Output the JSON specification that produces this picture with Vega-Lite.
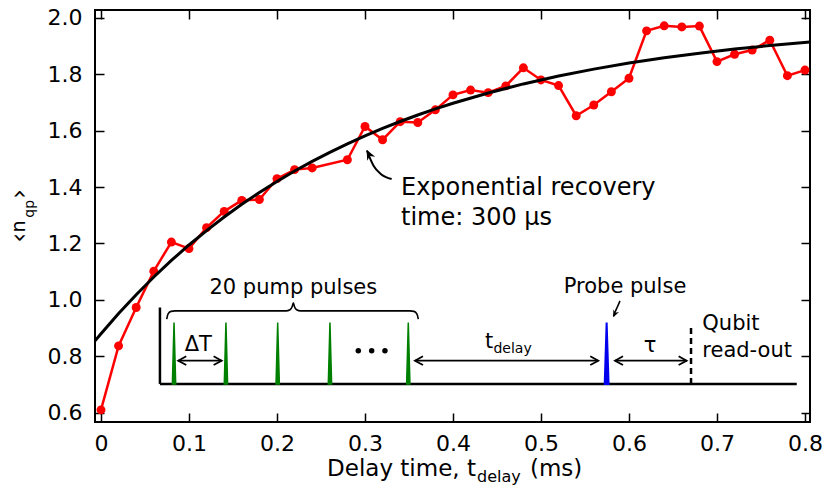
{
  "$schema": "https://vega.github.io/schema/vega-lite/v6.json",
  "width": 715,
  "height": 412,
  "autosize": "none",
  "padding": {"left": 95, "top": 10, "right": 17, "bottom": 80},
  "background": "white",
  "config": {
    "view": {"stroke": "black", "strokeWidth": 2},
    "axis": {"domain": false, "grid": false, "tickColor": "black", "tickWidth": 1.5, "tickSize": -9, "labelFont": "DejaVu Sans", "labelFontSize": 22, "labelColor": "black", "labelFlush": false, "labelOverlap": false, "labelBound": false},
    "text": {"font": "DejaVu Sans", "color": "black"}
  },
  "datasets": {
    "obs": [
      {"t": 0.00, "n": 0.610}, {"t": 0.02, "n": 0.837}, {"t": 0.04, "n": 0.973}, {"t": 0.06, "n": 1.102},
      {"t": 0.08, "n": 1.205}, {"t": 0.10, "n": 1.182}, {"t": 0.12, "n": 1.256}, {"t": 0.14, "n": 1.314},
      {"t": 0.16, "n": 1.353}, {"t": 0.18, "n": 1.356}, {"t": 0.20, "n": 1.430}, {"t": 0.22, "n": 1.462},
      {"t": 0.24, "n": 1.468}, {"t": 0.28, "n": 1.497}, {"t": 0.30, "n": 1.615}, {"t": 0.32, "n": 1.568},
      {"t": 0.34, "n": 1.632}, {"t": 0.36, "n": 1.629}, {"t": 0.38, "n": 1.674}, {"t": 0.40, "n": 1.727},
      {"t": 0.42, "n": 1.744}, {"t": 0.44, "n": 1.735}, {"t": 0.46, "n": 1.759}, {"t": 0.48, "n": 1.823},
      {"t": 0.50, "n": 1.780}, {"t": 0.52, "n": 1.760}, {"t": 0.54, "n": 1.653}, {"t": 0.56, "n": 1.691},
      {"t": 0.58, "n": 1.738}, {"t": 0.60, "n": 1.786}, {"t": 0.62, "n": 1.954}, {"t": 0.64, "n": 1.972},
      {"t": 0.66, "n": 1.968}, {"t": 0.68, "n": 1.971}, {"t": 0.70, "n": 1.845}, {"t": 0.72, "n": 1.871},
      {"t": 0.74, "n": 1.886}, {"t": 0.76, "n": 1.921}, {"t": 0.78, "n": 1.795}, {"t": 0.80, "n": 1.815}
    ],
    "fit": [
      {"t": -0.0068, "n": 0.8546}, {"t": 0.0, "n": 0.88}, {"t": 0.02, "n": 0.9516}, {"t": 0.04, "n": 1.0185},
      {"t": 0.06, "n": 1.0812}, {"t": 0.08, "n": 1.1398}, {"t": 0.10, "n": 1.1947}, {"t": 0.12, "n": 1.2459},
      {"t": 0.14, "n": 1.2939}, {"t": 0.16, "n": 1.3389}, {"t": 0.18, "n": 1.3808}, {"t": 0.20, "n": 1.4201},
      {"t": 0.22, "n": 1.4569}, {"t": 0.24, "n": 1.4913}, {"t": 0.26, "n": 1.5234}, {"t": 0.28, "n": 1.5535},
      {"t": 0.30, "n": 1.5816}, {"t": 0.32, "n": 1.608}, {"t": 0.34, "n": 1.6326}, {"t": 0.36, "n": 1.6557},
      {"t": 0.38, "n": 1.6772}, {"t": 0.40, "n": 1.6974}, {"t": 0.44, "n": 1.7339}, {"t": 0.48, "n": 1.7659},
      {"t": 0.52, "n": 1.7939}, {"t": 0.56, "n": 1.8184}, {"t": 0.60, "n": 1.8398}, {"t": 0.64, "n": 1.8586},
      {"t": 0.68, "n": 1.875}, {"t": 0.72, "n": 1.8893}, {"t": 0.76, "n": 1.9019}, {"t": 0.8057, "n": 1.9143}
    ],
    "frame": [
      {"x": 0.067, "x2": 0.7906, "y": 0.702, "y2": 0.702},
      {"x": 0.067, "x2": 0.067, "y": 0.702, "y2": 0.973}
    ],
    "shafts": [
      {"x": 0.0878, "x2": 0.1371, "y": 0.7845, "y2": 0.7845},
      {"x": 0.3568, "x2": 0.5651, "y": 0.7845, "y2": 0.7845},
      {"x": 0.5841, "x2": 0.6655, "y": 0.7845, "y2": 0.7845}
    ],
    "readout": [{"x": 0.6705, "x2": 0.6705, "y": 0.702, "y2": 0.908}],
    "pumps": [
      {"p": "a", "x": 0.0811, "y": 0.702}, {"p": "a", "x": 0.0830, "y": 0.92}, {"p": "a", "x": 0.0849, "y": 0.702},
      {"p": "b", "x": 0.1401, "y": 0.702}, {"p": "b", "x": 0.1420, "y": 0.92}, {"p": "b", "x": 0.1439, "y": 0.702},
      {"p": "c", "x": 0.1989, "y": 0.702}, {"p": "c", "x": 0.2008, "y": 0.92}, {"p": "c", "x": 0.2027, "y": 0.702},
      {"p": "d", "x": 0.2583, "y": 0.702}, {"p": "d", "x": 0.2602, "y": 0.92}, {"p": "d", "x": 0.2621, "y": 0.702},
      {"p": "e", "x": 0.3473, "y": 0.702}, {"p": "e", "x": 0.3492, "y": 0.92}, {"p": "e", "x": 0.3511, "y": 0.702}
    ],
    "probe": [
      {"p": "a", "x": 0.5724, "y": 0.702}, {"p": "a", "x": 0.5746, "y": 0.92}, {"p": "a", "x": 0.5768, "y": 0.702}
    ],
    "headsR": [{"x": 0.1371, "y": 0.7845}, {"x": 0.5651, "y": 0.7845}, {"x": 0.6655, "y": 0.7845}],
    "headsL": [{"x": 0.0878, "y": 0.7845}, {"x": 0.3568, "y": 0.7845}, {"x": 0.5841, "y": 0.7845}],
    "dots": [{"x": 0.2924, "y": 0.8196}, {"x": 0.3076, "y": 0.8196}, {"x": 0.3227, "y": 0.8196}],
    "brace": [
      {"x": 0.0747, "y": 0.9317}, {"x": 0.0761, "y": 0.9494}, {"x": 0.0795, "y": 0.9593}, {"x": 0.0841, "y": 0.9610},
      {"x": 0.2102, "y": 0.9610}, {"x": 0.2148, "y": 0.9652}, {"x": 0.2174, "y": 0.9776}, {"x": 0.2186, "y": 0.9900},
      {"x": 0.2197, "y": 0.9776}, {"x": 0.2223, "y": 0.9652}, {"x": 0.2268, "y": 0.9610}, {"x": 0.3511, "y": 0.9610},
      {"x": 0.3557, "y": 0.9593}, {"x": 0.3591, "y": 0.9494}, {"x": 0.3606, "y": 0.9317}
    ],
    "curveArrow": [
      {"x": 0.3303, "y": 1.4289}, {"x": 0.3182, "y": 1.4459}, {"x": 0.3097, "y": 1.4759}, {"x": 0.3040, "y": 1.5148}, {"x": 0.3022, "y": 1.5290}
    ],
    "curveHead": [{"x": 0.3019, "y": 1.5324}],
    "probeArrow": [
      {"x": 0.5898, "y": 0.9963}, {"x": 0.5869, "y": 0.9758}, {"x": 0.5841, "y": 0.9564}, {"x": 0.5824, "y": 0.9420}
    ],
    "probeHead": [{"x": 0.5822, "y": 0.9387}],
    "txt24": [
      {"x": 0.3409, "y": 1.3734, "s": "Exponential recovery"},
      {"x": 0.3409, "y": 1.2639, "s": "time: 300 μs"}
    ],
    "txt21c": [
      {"x": 0.2186, "y": 1.0225, "s": "20 pump pulses"},
      {"x": 0.1106, "y": 0.8186, "s": "ΔT"},
      {"x": 0.5955, "y": 1.0235, "s": "Probe pulse"},
      {"x": 0.6239, "y": 0.8168, "s": "τ"}
    ],
    "txt21l": [
      {"x": 0.6833, "y": 0.894, "s": "Qubit"},
      {"x": 0.6833, "y": 0.796, "s": "read-out"},
      {"x": 0.4364, "y": 0.8292, "s": "t"}
    ],
    "txt14l": [{"x": 0.4460, "y": 0.8115, "s": "delay"}],
    "xtitleR": [{"x": 0.4261, "y": 0.3768, "s": "Delay time, t"}],
    "xtitleL": [{"x": 0.4875, "y": 0.3768, "s": "(ms)"}],
    "xtitleSub": [{"x": 0.4273, "y": 0.3526, "s": "delay"}],
    "ytitleBr": [
      {"x": -0.0841, "y": 1.2036, "s": "‹"},
      {"x": -0.0841, "y": 1.3586, "s": "›"}
    ],
    "ytitle": [
      {"x": -0.0864, "y": 1.2389, "s": "n"}
    ],
    "ytitleSub": [{"x": -0.0761, "y": 1.2916, "s": "qp"}]
  },
  "resolve": {"axis": {"x": "independent", "y": "independent"}},
  "layer": [
    {
      "data": {"name": "obs"},
      "mark": {"type": "line", "color": "#ff0000", "strokeWidth": 2.5, "point": {"filled": true, "size": 80, "color": "#ff0000"}},
      "encoding": {
        "x": {"field": "t", "type": "quantitative", "scale": {"domain": [-0.0068, 0.8057], "nice": false, "zero": false},
              "axis": {"orient": "bottom", "title": null, "values": [0, 0.1, 0.2, 0.3, 0.4, 0.5, 0.6, 0.7, 0.8], "labelPadding": 20, "labelBaseline": "top",
                       "labelExpr": "datum.value == 0 ? '0' : format(datum.value, '.1f')"}},
        "y": {"field": "n", "type": "quantitative", "scale": {"domain": [0.567, 2.028], "nice": false, "zero": false},
              "axis": {"orient": "left", "title": null, "values": [0.6, 0.8, 1.0, 1.2, 1.4, 1.6, 1.8, 2.0], "format": ".1f", "labelPadding": 22}}
      }
    },
    {
      "data": {"name": "fit"},
      "mark": {"type": "line", "color": "black", "strokeWidth": 3},
      "encoding": {
        "x": {"field": "t", "type": "quantitative", "scale": {"domain": [-0.0068, 0.8057], "nice": false, "zero": false},
              "axis": {"orient": "top", "title": null, "labels": false, "values": [0, 0.1, 0.2, 0.3, 0.4, 0.5, 0.6, 0.7, 0.8]}},
        "y": {"field": "n", "type": "quantitative", "scale": {"domain": [0.567, 2.028], "nice": false, "zero": false},
              "axis": {"orient": "right", "title": null, "labels": false, "values": [0.6, 0.8, 1.0, 1.2, 1.4, 1.6, 1.8, 2.0]}}
      }
    },
    {
      "data": {"name": "frame"},
      "mark": {"type": "rule", "color": "black", "strokeWidth": 2.5},
      "encoding": {
        "x": {"field": "x", "type": "quantitative", "axis": null}, "x2": {"field": "x2"},
        "y": {"field": "y", "type": "quantitative", "axis": null}, "y2": {"field": "y2"}
      }
    },
    {
      "data": {"name": "shafts"},
      "mark": {"type": "rule", "color": "black", "strokeWidth": 1.6},
      "encoding": {
        "x": {"field": "x", "type": "quantitative", "axis": null}, "x2": {"field": "x2"},
        "y": {"field": "y", "type": "quantitative", "axis": null}, "y2": {"field": "y2"}
      }
    },
    {
      "data": {"name": "readout"},
      "mark": {"type": "rule", "color": "black", "strokeWidth": 2.5, "strokeDash": [6, 4]},
      "encoding": {
        "x": {"field": "x", "type": "quantitative", "axis": null}, "x2": {"field": "x2"},
        "y": {"field": "y", "type": "quantitative", "axis": null}, "y2": {"field": "y2"}
      }
    },
    {
      "data": {"name": "pumps"},
      "mark": {"type": "area", "color": "#008000", "stroke": "#008000", "strokeWidth": 1.5},
      "encoding": {
        "x": {"field": "x", "type": "quantitative", "axis": null},
        "y": {"field": "y", "type": "quantitative", "axis": null},
        "y2": {"datum": 0.702},
        "detail": {"field": "p"}
      }
    },
    {
      "data": {"name": "probe"},
      "mark": {"type": "area", "color": "#0000ee", "stroke": "#0000ee", "strokeWidth": 2},
      "encoding": {
        "x": {"field": "x", "type": "quantitative", "axis": null},
        "y": {"field": "y", "type": "quantitative", "axis": null},
        "y2": {"datum": 0.702},
        "detail": {"field": "p"}
      }
    },
    {
      "data": {"name": "headsR"},
      "mark": {"type": "point", "shape": "M-1,-0.55L0,0L-1,0.55", "filled": false, "size": 256, "color": "black", "strokeWidth": 1.8, "opacity": 1},
      "encoding": {
        "x": {"field": "x", "type": "quantitative", "axis": null},
        "y": {"field": "y", "type": "quantitative", "axis": null}
      }
    },
    {
      "data": {"name": "headsL"},
      "mark": {"type": "point", "shape": "M1,-0.55L0,0L1,0.55", "filled": false, "size": 256, "color": "black", "strokeWidth": 1.8, "opacity": 1},
      "encoding": {
        "x": {"field": "x", "type": "quantitative", "axis": null},
        "y": {"field": "y", "type": "quantitative", "axis": null}
      }
    },
    {
      "data": {"name": "dots"},
      "mark": {"type": "point", "shape": "circle", "filled": true, "size": 30, "color": "black", "opacity": 1},
      "encoding": {
        "x": {"field": "x", "type": "quantitative", "axis": null},
        "y": {"field": "y", "type": "quantitative", "axis": null}
      }
    },
    {
      "data": {"name": "brace"},
      "mark": {"type": "line", "color": "black", "strokeWidth": 1.6, "interpolate": "monotone"},
      "encoding": {
        "x": {"field": "x", "type": "quantitative", "axis": null},
        "y": {"field": "y", "type": "quantitative", "axis": null}
      }
    },
    {
      "data": {"name": "curveArrow"},
      "mark": {"type": "line", "color": "black", "strokeWidth": 2, "interpolate": "monotone"},
      "encoding": {
        "x": {"field": "x", "type": "quantitative", "axis": null},
        "y": {"field": "y", "type": "quantitative", "axis": null}
      }
    },
    {
      "data": {"name": "curveHead"},
      "mark": {"type": "point", "shape": "M0,0L-1,-0.45L-0.7,0L-1,0.45Z", "filled": true, "size": 400, "angle": 243, "color": "black", "opacity": 1},
      "encoding": {
        "x": {"field": "x", "type": "quantitative", "axis": null},
        "y": {"field": "y", "type": "quantitative", "axis": null}
      }
    },
    {
      "data": {"name": "probeArrow"},
      "mark": {"type": "line", "color": "black", "strokeWidth": 1.6, "interpolate": "monotone"},
      "encoding": {
        "x": {"field": "x", "type": "quantitative", "axis": null},
        "y": {"field": "y", "type": "quantitative", "axis": null}
      }
    },
    {
      "data": {"name": "probeHead"},
      "mark": {"type": "point", "shape": "M0,0L-1,-0.45L-0.7,0L-1,0.45Z", "filled": true, "size": 196, "angle": 114, "color": "black", "opacity": 1},
      "encoding": {
        "x": {"field": "x", "type": "quantitative", "axis": null},
        "y": {"field": "y", "type": "quantitative", "axis": null}
      }
    },
    {
      "data": {"name": "txt24"},
      "mark": {"type": "text", "fontSize": 24, "align": "left", "baseline": "alphabetic"},
      "encoding": {
        "x": {"field": "x", "type": "quantitative", "axis": null},
        "y": {"field": "y", "type": "quantitative", "axis": null},
        "text": {"field": "s"}
      }
    },
    {
      "data": {"name": "txt21c"},
      "mark": {"type": "text", "fontSize": 21, "align": "center", "baseline": "alphabetic"},
      "encoding": {
        "x": {"field": "x", "type": "quantitative", "axis": null},
        "y": {"field": "y", "type": "quantitative", "axis": null},
        "text": {"field": "s"}
      }
    },
    {
      "data": {"name": "txt21l"},
      "mark": {"type": "text", "fontSize": 21, "align": "left", "baseline": "alphabetic"},
      "encoding": {
        "x": {"field": "x", "type": "quantitative", "axis": null},
        "y": {"field": "y", "type": "quantitative", "axis": null},
        "text": {"field": "s"}
      }
    },
    {
      "data": {"name": "txt14l"},
      "mark": {"type": "text", "fontSize": 14, "align": "left", "baseline": "alphabetic"},
      "encoding": {
        "x": {"field": "x", "type": "quantitative", "axis": null},
        "y": {"field": "y", "type": "quantitative", "axis": null},
        "text": {"field": "s"}
      }
    },
    {
      "data": {"name": "xtitleR"},
      "mark": {"type": "text", "fontSize": 23, "align": "right", "baseline": "alphabetic"},
      "encoding": {
        "x": {"field": "x", "type": "quantitative", "axis": null},
        "y": {"field": "y", "type": "quantitative", "axis": null},
        "text": {"field": "s"}
      }
    },
    {
      "data": {"name": "xtitleL"},
      "mark": {"type": "text", "fontSize": 23, "align": "left", "baseline": "alphabetic"},
      "encoding": {
        "x": {"field": "x", "type": "quantitative", "axis": null},
        "y": {"field": "y", "type": "quantitative", "axis": null},
        "text": {"field": "s"}
      }
    },
    {
      "data": {"name": "xtitleSub"},
      "mark": {"type": "text", "fontSize": 16, "align": "left", "baseline": "alphabetic"},
      "encoding": {
        "x": {"field": "x", "type": "quantitative", "axis": null},
        "y": {"field": "y", "type": "quantitative", "axis": null},
        "text": {"field": "s"}
      }
    },
    {
      "data": {"name": "ytitleBr"},
      "mark": {"type": "text", "fontSize": 24, "align": "left", "baseline": "alphabetic", "angle": 270},
      "encoding": {
        "x": {"field": "x", "type": "quantitative", "axis": null},
        "y": {"field": "y", "type": "quantitative", "axis": null},
        "text": {"field": "s"}
      }
    },
    {
      "data": {"name": "ytitle"},
      "mark": {"type": "text", "fontSize": 19, "align": "left", "baseline": "alphabetic", "angle": 270},
      "encoding": {
        "x": {"field": "x", "type": "quantitative", "axis": null},
        "y": {"field": "y", "type": "quantitative", "axis": null},
        "text": {"field": "s"}
      }
    },
    {
      "data": {"name": "ytitleSub"},
      "mark": {"type": "text", "fontSize": 14, "align": "left", "baseline": "alphabetic", "angle": 270},
      "encoding": {
        "x": {"field": "x", "type": "quantitative", "axis": null},
        "y": {"field": "y", "type": "quantitative", "axis": null},
        "text": {"field": "s"}
      }
    }
  ]
}
